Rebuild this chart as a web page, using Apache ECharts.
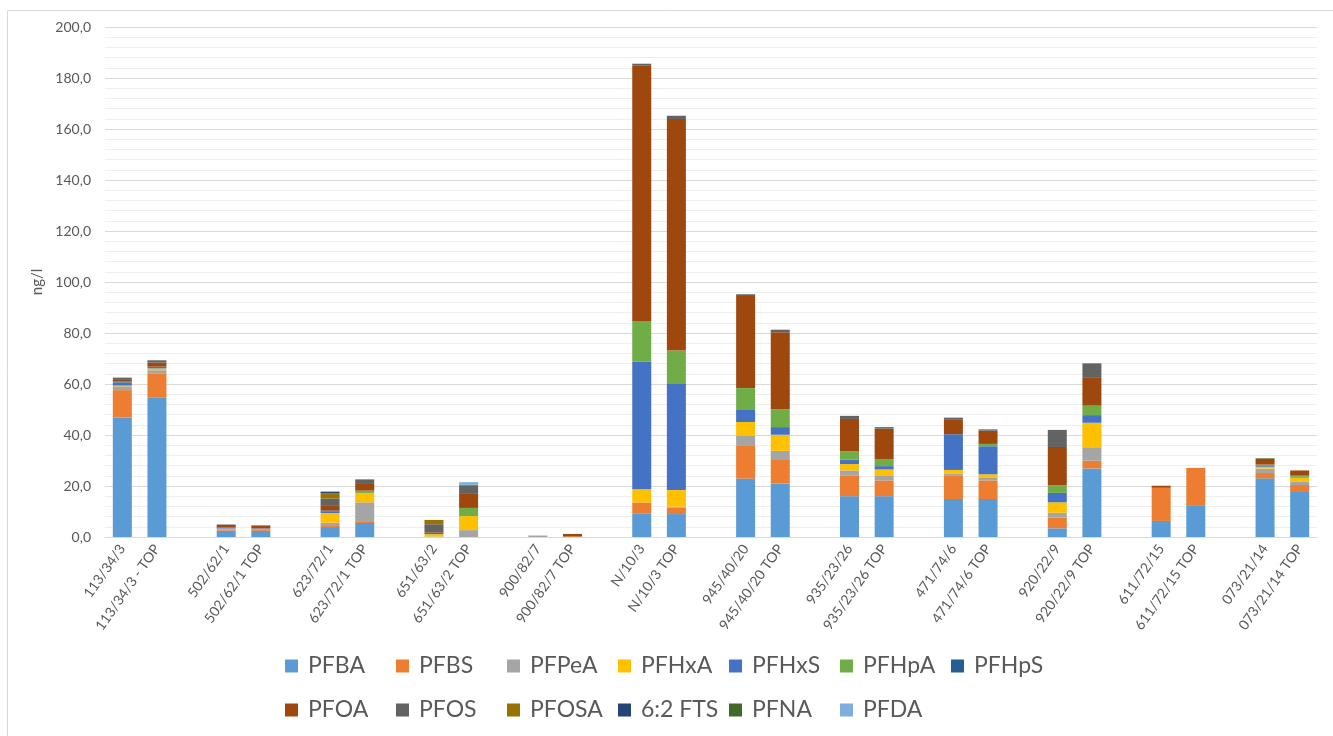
<!DOCTYPE html>
<html>
<head>
<meta charset="utf-8">
<title>PFAS ng/l</title>
<script src="https://cdn.jsdelivr.net/npm/echarts/dist/echarts.min.js"></script>
<style>
	html,body{margin:0;padding:0;background:#fff;}
	#main{width:1333px;height:736px;}
</style>
</head>
<body>
<div id="main"></div>
<script>
//样本名称（每两个一组）
var samples=["113/34/3","113/34/3 - TOP","502/62/1","502/62/1 TOP","623/72/1","623/72/1 TOP",
	"651/63/2","651/63/2 TOP","900/82/7","900/82/7 TOP","N/10/3","N/10/3 TOP",
	"945/40/20","945/40/20 TOP","935/23/26","935/23/26 TOP","471/74/6","471/74/6 TOP",
	"920/22/9","920/22/9 TOP","611/72/15","611/72/15 TOP","073/21/14","073/21/14 TOP"];
var yTicks=[0,20,40,60,80,100,120,140,160,180,200];

//各物质数值 ng/l
var PFBA =[46.8,54.8,2.5,2.4,3.9,5.5,0,0,0,0,9.3,9.0,22.9,21.0,16.0,16.0,14.9,14.9,3.4,26.9,6.3,12.2,23.0,18.0];
var PFBS =[10.8,9.2,0.5,0.4,0.4,0.4,0,0,0,0.2,4.2,2.6,13.1,9.2,8.2,6.2,9.3,7.3,4.2,3.0,13.0,14.9,2.1,2.4];
var PFPeA=[1.5,1.4,0.4,0.4,1.3,7.7,0.2,2.7,0.3,0,0,0.3,3.6,3.6,1.9,2.0,0.6,1.2,1.9,5.3,0,0,1.7,1.2];
var PFHxA=[0.3,0.7,0,0,3.8,3.7,0.9,5.5,0,0,5.2,6.5,5.5,6.3,2.5,2.3,1.5,1.2,4.1,9.6,0,0,0.7,1.7];
var PFHxS=[1.3,0.7,0.3,0.2,0.7,0,0,0,0,0,50.1,41.6,4.7,3.0,1.7,1.3,14.0,11.0,3.7,3.0,0,0,0.3,0.3];
var PFHpA=[0.2,0,0,0,0,0.9,0.1,3.2,0,0,15.9,13.1,8.6,7.0,3.3,2.8,0,0.9,3.0,3.7,0,0,0.6,0.3];
var PFHpS=[0,0,0,0,0.3,0,0,0,0,0,0,0,0,0,0,0,0,0,0,0,0,0,0,0.2];
var PFOA =[1.0,1.6,1.0,1.0,1.8,2.6,0.6,5.5,0,1.0,100.1,90.8,36.1,30.2,12.7,11.9,5.9,5.2,15.0,10.9,0.8,0,2.3,2.0];
var PFOS =[0.6,0.9,0.2,0.2,2.9,1.8,3.2,3.3,0.2,0,0.8,1.3,0.7,1.0,1.2,0.6,0.6,0.5,6.7,5.7,0,0,0,0];
var PFOSA=[0,0,0,0,2.0,0,1.7,0,0,0,0,0,0,0,0,0,0,0,0,0,0,0,0,0];
var FTS62=[0,0,0,0,0.7,0,0,0,0,0,0,0,0,0,0,0,0,0,0,0,0,0,0,0];
var PFNA =[0,0,0,0,0,0,0,0.3,0,0,0,0,0,0,0,0,0,0,0,0,0,0,0.2,0];
var PFDA =[0,0,0,0,0,0,0,1.0,0,0,0,0,0,0,0,0,0,0,0,0,0,0,0,0];

var seriesNames=["PFBA","PFBS","PFPeA","PFHxA","PFHxS","PFHpA","PFHpS","PFOA","PFOS","PFOSA","6:2 FTS","PFNA","PFDA"];
var seriesValues=[PFBA,PFBS,PFPeA,PFHxA,PFHxS,PFHpA,PFHpS,PFOA,PFOS,PFOSA,FTS62,PFNA,PFDA];
var colorList=["#5b9bd5","#ed7d31","#a5a5a5","#ffc000","#4472c4","#70ad47","#255e91",
	"#9e480e","#636363","#997300","#264478","#43682b","#7cafdd"];

//每组之间插入空类目
var categories=[];
for(var i=0;i<samples.length;i++){
	categories.push(samples[i]);
	if(i%2==1&&i<samples.length-1){
		categories.push("");
	}
}
function spread(arr){
	var out=[],k=0;
	for(var i=0;i<categories.length;i++){
		out.push(categories[i]===""?null:arr[k++]);
	}
	return out;
}

var series=[];
for(var s=0;s<seriesNames.length;s++){
	series.push({
		name:seriesNames[s],
		type:'bar',
		stack:'total',
		barWidth:19,
		itemStyle:{color:colorList[s]},
		data:spread(seriesValues[s])
	});
}

var legendStyle={
	fontFamily:"Lato",
	fontSize:23,
	color:"#595959",
	width:88,
	lineHeight:28,
	padding:[0,0,0,5]
};

var myChart=echarts.init(document.getElementById("main"));
var option={
	animation:false,
	textStyle:{fontFamily:"Lato"},
	grid:{
		left:105,
		right:16,
		top:27,
		bottom:199
	},
	//外框
	graphic:[{
		type:'rect',
		left:5,
		top:8,
		shape:{width:1326,height:726},
		style:{fill:'none',stroke:'#d9d9d9',lineWidth:1}
	}],
	legend:[{
		left:280,
		top:647,
		itemWidth:13,
		itemHeight:13,
		itemGap:0,
		icon:'rect',
		textStyle:legendStyle,
		data:seriesNames.slice(0,7)
	},{
		left:280,
		top:691,
		itemWidth:13,
		itemHeight:13,
		itemGap:0,
		icon:'rect',
		textStyle:legendStyle,
		data:seriesNames.slice(7)
	}],
	xAxis:{
		type:'category',
		data:categories,
		axisTick:{show:false},
		axisLine:{lineStyle:{color:"#d9d9d9"}},
		axisLabel:{
			interval:0,
			rotate:55,
			fontSize:14,
			color:"#595959",
			margin:9
		}
	},
	yAxis:{
		type:'value',
		min:yTicks[0],
		max:yTicks[yTicks.length-1],
		interval:20,
		name:"ng/l",
		nameLocation:'middle',
		nameGap:55,
		nameTextStyle:{fontSize:15,color:"#595959"},
		axisLine:{show:false},
		axisTick:{show:false},
		axisLabel:{
			fontSize:14,
			color:"#595959",
			margin:14,
			formatter:function(v){return v.toFixed(1).replace(".",",");}
		},
		splitLine:{lineStyle:{color:"#d9d9d9"}},
		minorTick:{show:false,splitNumber:5},
		minorSplitLine:{show:true,lineStyle:{color:"#eeeeee"}}
	},
	series:series
};
myChart.setOption(option);
</script>
</body>
</html>
